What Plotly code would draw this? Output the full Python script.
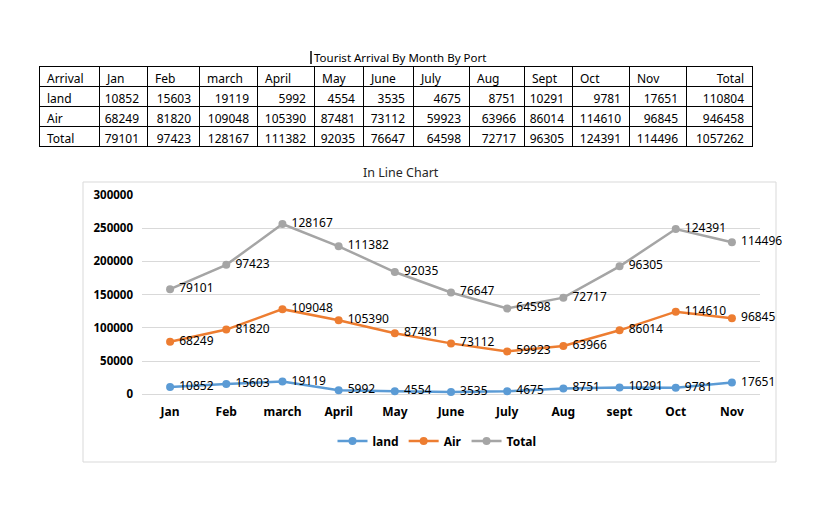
import plotly.graph_objects as go

# table data
header = ['Arrival', 'Jan', 'Feb', 'march', 'April', 'May', 'June', 'July',
          'Aug', 'Sept', 'Oct', 'Nov', 'Total']
row_names = ['land', 'Air', 'Total']
land = [10852, 15603, 19119, 5992, 4554, 3535, 4675, 8751, 10291, 9781, 17651]
air = [68249, 81820, 109048, 105390, 87481, 73112, 59923, 63966, 86014, 114610, 96845]
total = [79101, 97423, 128167, 111382, 92035, 76647, 64598, 72717, 96305, 124391, 114496]
row_totals = [110804, 946458, 1057262]

# chart categories (chart uses lowercase "sept")
chart_months = ['Jan', 'Feb', 'march', 'April', 'May', 'June', 'July', 'Aug',
                'sept', 'Oct', 'Nov']

W, H = 833, 517
FONT = 'Noto Sans'


def px(x):
    return x / W


def py(y):
    return (H - y) / H


fig = go.Figure()

# table at the top
cols = [row_names]
for i in range(len(land)):
    cols.append([land[i], air[i], total[i]])
cols.append(row_totals)

fig.add_trace(go.Table(
    domain=dict(x=[px(39), px(752)], y=[py(147), py(66)]),
    columnwidth=[60, 48, 52, 58, 57, 49, 50, 56, 55, 48, 57, 57, 66],
    header=dict(values=header, height=20,
                align=['left'] * 12 + ['right'],
                fill_color='white', line=dict(color='black', width=1),
                font=dict(family=FONT, size=12, color='black')),
    cells=dict(values=cols, height=20,
               align=['left'] + ['right'] * 12,
               fill_color='white', line=dict(color='black', width=1),
               font=dict(family=FONT, size=12, color='black')),
))

# stacked line chart (Excel "stacked line" type)
series = [('land', land, '#5B9BD5'), ('Air', air, '#ED7D31'), ('Total', total, '#A5A5A5')]
for name, vals, color in series:
    fig.add_trace(go.Scatter(
        x=chart_months, y=vals, name=name,
        stackgroup='one', fill='none',
        mode='lines+markers+text',
        text=[str(v) for v in vals],
        texttemplate=' %{text}',
        textposition='middle right',
        textfont=dict(family=FONT, size=12, color='black'),
        line=dict(color=color, width=2.5),
        marker=dict(color=color, size=8),
        cliponaxis=False,
    ))

fig.update_layout(
    width=W, height=H,
    margin=dict(l=0, r=0, t=0, b=0, autoexpand=False),
    paper_bgcolor='white', plot_bgcolor='white',
    font=dict(family=FONT, size=12, color='black'),
    xaxis=dict(domain=[px(142), px(760)], type='category', range=[-0.5, 10.5],
               showgrid=False, showline=False, zeroline=False, automargin=False,
               tickfont=dict(family=FONT, size=12, color='black', weight='bold'),
               ticklabelstandoff=9),
    yaxis=dict(domain=[py(394.3), py(195)], range=[0, 300000], dtick=50000,
               tickformat='d', showgrid=True, gridcolor='#D9D9D9', gridwidth=1,
               zeroline=True, zerolinecolor='#D9D9D9', zerolinewidth=1,
               showline=False, automargin=False,
               tickfont=dict(family=FONT, size=11.5, color='black', weight='bold'),
               ticklabelstandoff=8),
    legend=dict(orientation='h', x=px(437), xanchor='center', y=py(441), yanchor='middle',
                font=dict(family=FONT, size=12, color='black', weight='bold'),
                itemwidth=30, bgcolor='rgba(0,0,0,0)'),
    showlegend=True,
)

# chart border and titles
fig.add_shape(type='rect', xref='paper', yref='paper',
              x0=px(83), x1=px(776), y0=py(462), y1=py(182),
              line=dict(color='#D9D9D9', width=1), layer='below')
fig.add_shape(type='line', xref='paper', yref='paper',
              x0=px(311), x1=px(311), y0=py(64), y1=py(51),
              line=dict(color='black', width=1.5))
fig.add_annotation(text='Tourist Arrival By Month By Port', xref='paper', yref='paper',
                   x=px(312), y=py(58), xanchor='left', yanchor='middle', showarrow=False,
                   font=dict(family=FONT, size=11.5, color='black'))
fig.add_annotation(text='In Line Chart', xref='paper', yref='paper',
                   x=px(401), y=py(172), xanchor='center', yanchor='middle', showarrow=False,
                   font=dict(family=FONT, size=12.5, color='#262626'))

fig.write_html('out.html', config={'displayModeBar': False},
               post_script="document.body.style.margin='0';")
